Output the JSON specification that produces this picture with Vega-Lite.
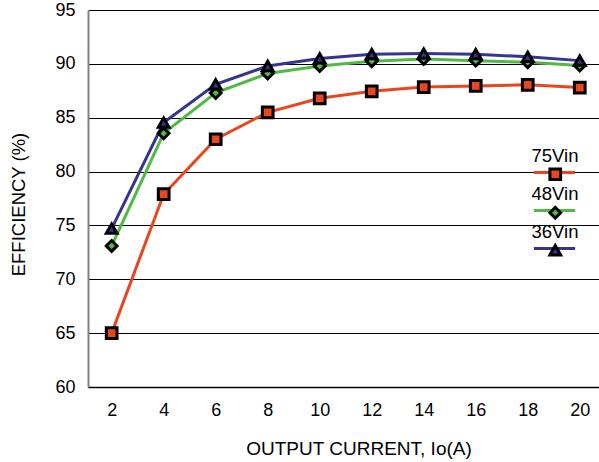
{
  "$schema": "https://vega.github.io/schema/vega-lite/v6.json",
  "width": 511,
  "height": 377,
  "autosize": "none",
  "padding": {"left": 88, "top": 10, "right": 0, "bottom": 75},
  "background": "white",
  "config": {
    "view": {"stroke": null},
    "font": "Liberation Sans",
    "axis": {"labelFont": "Liberation Sans", "titleFont": "Liberation Sans", "labelColor": "black", "titleColor": "black", "titleFontWeight": "normal"},
    "legend": {"labelFont": "Liberation Sans"}
  },
  "data": {
    "values": [
      {"current": 2, "efficiency": 65.0, "series": "75Vin"},
      {"current": 4, "efficiency": 77.9, "series": "75Vin"},
      {"current": 6, "efficiency": 83.0, "series": "75Vin"},
      {"current": 8, "efficiency": 85.5, "series": "75Vin"},
      {"current": 10, "efficiency": 86.8, "series": "75Vin"},
      {"current": 12, "efficiency": 87.45, "series": "75Vin"},
      {"current": 14, "efficiency": 87.85, "series": "75Vin"},
      {"current": 16, "efficiency": 87.95, "series": "75Vin"},
      {"current": 18, "efficiency": 88.05, "series": "75Vin"},
      {"current": 20, "efficiency": 87.8, "series": "75Vin"},
      {"current": 2, "efficiency": 73.1, "series": "48Vin"},
      {"current": 4, "efficiency": 83.55, "series": "48Vin"},
      {"current": 6, "efficiency": 87.3, "series": "48Vin"},
      {"current": 8, "efficiency": 89.1, "series": "48Vin"},
      {"current": 10, "efficiency": 89.8, "series": "48Vin"},
      {"current": 12, "efficiency": 90.25, "series": "48Vin"},
      {"current": 14, "efficiency": 90.45, "series": "48Vin"},
      {"current": 16, "efficiency": 90.3, "series": "48Vin"},
      {"current": 18, "efficiency": 90.15, "series": "48Vin"},
      {"current": 20, "efficiency": 89.85, "series": "48Vin"},
      {"current": 2, "efficiency": 74.7, "series": "36Vin"},
      {"current": 4, "efficiency": 84.55, "series": "36Vin"},
      {"current": 6, "efficiency": 88.1, "series": "36Vin"},
      {"current": 8, "efficiency": 89.8, "series": "36Vin"},
      {"current": 10, "efficiency": 90.5, "series": "36Vin"},
      {"current": 12, "efficiency": 90.9, "series": "36Vin"},
      {"current": 14, "efficiency": 90.95, "series": "36Vin"},
      {"current": 16, "efficiency": 90.9, "series": "36Vin"},
      {"current": 18, "efficiency": 90.65, "series": "36Vin"},
      {"current": 20, "efficiency": 90.3, "series": "36Vin"}
    ]
  },
  "encoding": {
    "x": {
      "field": "current", "type": "quantitative",
      "scale": {"domain": [1.09, 20.74], "nice": false, "zero": false},
      "axis": {
        "values": [2, 4, 6, 8, 10, 12, 14, 16, 18, 20],
        "title": "OUTPUT CURRENT, Io(A)",
        "titleFontSize": 19, "titlePadding": 20, "titleX": 270.5,
        "labelFontSize": 18, "labelPadding": 14,
        "ticks": false, "grid": false,
        "domainColor": "black", "domainWidth": 1.5
      }
    },
    "y": {
      "field": "efficiency", "type": "quantitative",
      "scale": {"domain": [60, 95], "nice": false, "zero": false},
      "axis": {
        "values": [60, 65, 70, 75, 80, 85, 90, 95],
        "title": "EFFICIENCY (%)",
        "titleFontSize": 18.5, "titlePadding": 26, "titleY": 194,
        "labelFontSize": 18, "labelPadding": 13,
        "ticks": false, "grid": true, "gridColor": "black", "gridWidth": 1, "gridOpacity": 1,
        "domainColor": "#808080", "domainWidth": 2
      }
    }
  },
  "layer": [
    {
      "mark": {"type": "line", "strokeWidth": 3},
      "encoding": {
        "stroke": {
          "field": "series", "type": "nominal",
          "scale": {"domain": ["75Vin", "48Vin", "36Vin"], "range": ["#E8461E", "#52B947", "#35358F"]},
          "legend": {
            "orient": "none", "legendX": 444, "legendY": 140,
            "title": null, "padding": 0,
            "symbolType": "stroke", "symbolSize": 1700, "symbolStrokeWidth": 3,
            "labelFontSize": 18.5, "labelAlign": "center", "labelOffset": -22,
            "rowPadding": 5,
            "encode": {"labels": {"update": {"dy": {"value": -17}}}}
          }
        }
      }
    },
    {
      "mark": {"type": "point", "filled": true, "stroke": "black", "strokeWidth": 3, "size": 115, "opacity": 1},
      "encoding": {
        "fill": {
          "field": "series", "type": "nominal", "sort": "descending",
          "scale": {"range": ["#E8461E", "#52B947", "#35358F"]},
          "legend": {
            "orient": "none", "legendX": 458, "legendY": 155,
            "title": null, "padding": 0,
            "symbolSize": 115, "symbolStrokeWidth": 3,
            "labelFontSize": 18.5, "labelOpacity": 0, "labelAlign": "center", "labelOffset": -22,
            "rowPadding": 14.5,
            "encode": {
              "labels": {"update": {"dy": {"value": -17}}},
              "symbols": {"update": {"stroke": {"value": "black"}, "strokeWidth": {"value": 3}}}
            }
          }
        },
        "shape": {
          "field": "series", "type": "nominal", "sort": "descending",
          "scale": {"range": ["square", "diamond", "triangle-up"]},
          "legend": {
            "orient": "none", "legendX": 458, "legendY": 155,
            "title": null, "padding": 0,
            "symbolSize": 115, "symbolStrokeWidth": 3,
            "labelFontSize": 18.5, "labelOpacity": 0, "labelAlign": "center", "labelOffset": -22,
            "rowPadding": 14.5,
            "encode": {
              "labels": {"update": {"dy": {"value": -17}}},
              "symbols": {"update": {"stroke": {"value": "black"}, "strokeWidth": {"value": 3}}}
            }
          }
        }
      }
    }
  ]
}
